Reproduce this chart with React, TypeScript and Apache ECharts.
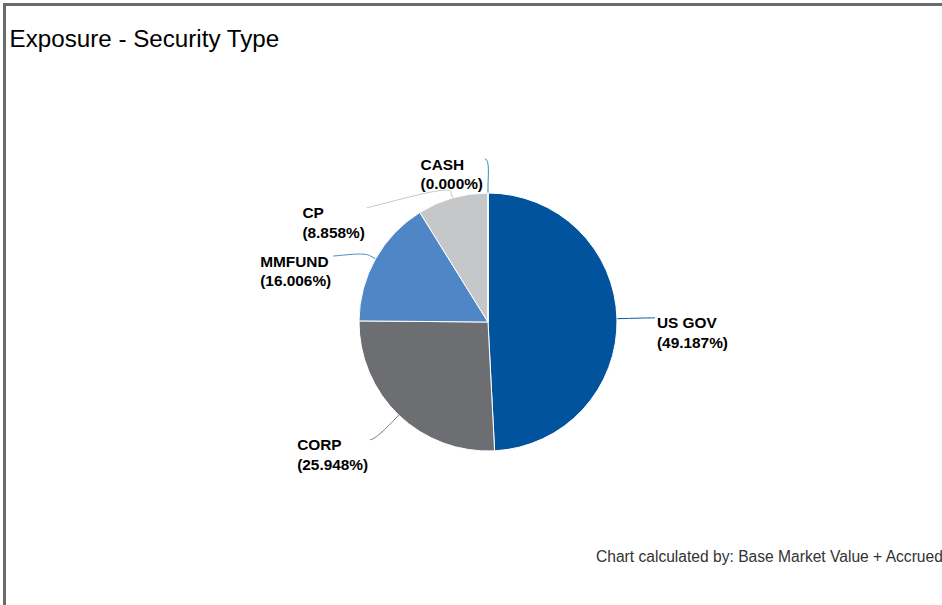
import React, { useEffect, useRef } from "react";
import * as echarts from "echarts";

// ---- data ----
const categories = ["US GOV", "CORP", "MMFUND", "CP", "CASH"];
const percentages = [49.187, 25.948, 16.006, 8.858, 0.0];
const sliceColors = ["#01539d", "#6d6e71", "#4f86c6", "#c6c7c9", "#1f8f9c"];
const titleText = "Exposure - Security Type";
const footnoteText = "Chart calculated by: Base Market Value + Accrued";

// ---- layout constants ----
const CX = 488;
const CY = 322;
const R = 129;
const LABEL_DIST = 37; // horizontal label ellipse offset
const LABEL_DIST_Y = 34; // vertical label ellipse offset
const BREAK_DIST = 7;
const SLOT = 48.5;
const LABEL_GAP = 2;
const FONT = "'Liberation Sans', Arial, Helvetica, sans-serif";

type Anchor = { left: boolean; ex: number; ey: number; points: number[][] };

function computeAnchors(): Anchor[] {
  const total = percentages.reduce((s, v) => s + v, 0);
  let acc = 0;
  const raw = percentages.map((v, i) => {
    const start = (acc / total) * 360;
    acc += v;
    const end = (acc / total) * 360;
    const mid = (start + end) / 2;
    const rad = (mid * Math.PI) / 180;
    const ux = Math.sin(rad);
    const uy = -Math.cos(rad);
    const left = mid > 180;
    const natY = CY + (R + LABEL_DIST_Y) * uy;
    return { i, ux, uy, left, natY, y: natY };
  });
  // distribute labels on each side
  [true, false].forEach((side) => {
    const list = raw.filter((r) => r.left === side).sort((a, b) => a.natY - b.natY);
    for (let k = 1; k < list.length; k++) {
      list[k].y = Math.max(list[k].natY, list[k - 1].y + SLOT);
    }
  });
  const DX = R + LABEL_DIST;
  const DY = R + LABEL_DIST_Y;
  return raw.map((r) => {
    const ny = (r.y - CY) / DY;
    const dx = DX * Math.sqrt(Math.max(0, 1 - ny * ny));
    const ex = r.left ? CX - dx - 3 : CX + dx + 1;
    const ey = r.y;
    const p0 = [CX + R * r.ux, CY + R * r.uy];
    const b = [CX + (R + BREAK_DIST) * r.ux, CY + (R + BREAK_DIST) * r.uy];
    const c2 = [CX + (R + 2 * BREAK_DIST) * r.ux, CY + (R + 2 * BREAK_DIST) * r.uy];
    const c1 = [ex + (r.left ? 5 : -5), ey];
    const s = [ex, ey];
    const pts: number[][] = [];
    const N = 24;
    for (let k = 0; k <= N; k++) {
      const t = k / N;
      const mt = 1 - t;
      const x = mt * mt * mt * s[0] + 3 * mt * mt * t * c1[0] + 3 * mt * t * t * c2[0] + t * t * t * b[0];
      const y = mt * mt * mt * s[1] + 3 * mt * mt * t * c1[1] + 3 * mt * t * t * c2[1] + t * t * t * b[1];
      pts.push([x, y]);
    }
    pts.push(p0);
    return { left: r.left, ex, ey, points: pts };
  });
}

export default function App() {
  const ref = useRef<HTMLDivElement>(null);

  useEffect(() => {
    if (!ref.current) return;
    const chart = echarts.init(ref.current, undefined, { renderer: "svg" });
    const anchors = computeAnchors();

    const option: any = {
      animation: false,
      backgroundColor: "transparent",
      title: {
        text: titleText,
        left: 9.5,
        top: 26,
        padding: 0,
        textStyle: {
          fontFamily: FONT,
          fontSize: 24.2,
          fontWeight: "normal",
          color: "#000",
        },
      },
      graphic: [
        {
          type: "text",
          x: 596,
          y: 556.5,
          style: {
            text: footnoteText,
            fill: "#333",
            font: `15.6px ${FONT}`,
            align: "left",
            verticalAlign: "middle",
          },
        },
      ],
      series: [
        {
          type: "pie",
          center: [CX, CY],
          radius: R,
          startAngle: 90,
          clockwise: true,
          avoidLabelOverlap: false,
          itemStyle: { borderColor: "#ffffff", borderWidth: 1 },
          emphasis: { disabled: true },
          label: {
            show: true,
            position: "outside",
            color: "#000",
            fontFamily: FONT,
            fontSize: 15.4,
            fontWeight: "bold",
            lineHeight: 19.5,
            formatter: (p: any) =>
              `${p.name}\n(${percentages[p.dataIndex].toFixed(3)}%)`,
          },
          labelLine: {
            show: true,
            smooth: false,
            lineStyle: { width: 1 },
          },
          labelLayout: (params: any) => {
            const a = anchors[params.dataIndex];
            const w = params.labelRect.width;
            const x = a.left ? a.ex - LABEL_GAP - w : a.ex + LABEL_GAP;
            return {
              x,
              y: a.ey - 4.7,
              align: "left",
              verticalAlign: "top",
              labelLinePoints: a.points,
            };
          },
          data: categories.map((name, i) => ({
            name,
            value: percentages[i],
            itemStyle: { color: sliceColors[i] },
          })),
        },
      ],
    };
    chart.setOption(option);
    return () => chart.dispose();
  }, []);

  return (
    <div
      style={{
        position: "fixed",
        left: 0,
        top: 0,
        width: 942,
        height: 605,
        overflow: "hidden",
        background: "#ffffff",
      }}
    >
      <div
        style={{
          position: "absolute",
          left: 3,
          top: 3,
          width: 1400,
          height: 1000,
          border: "3px solid #6b6b6b",
          boxSizing: "border-box",
        }}
      />
      <div
        ref={ref}
        style={{ position: "absolute", left: 0, top: 0, width: 942, height: 605 }}
      />
    </div>
  );
}
